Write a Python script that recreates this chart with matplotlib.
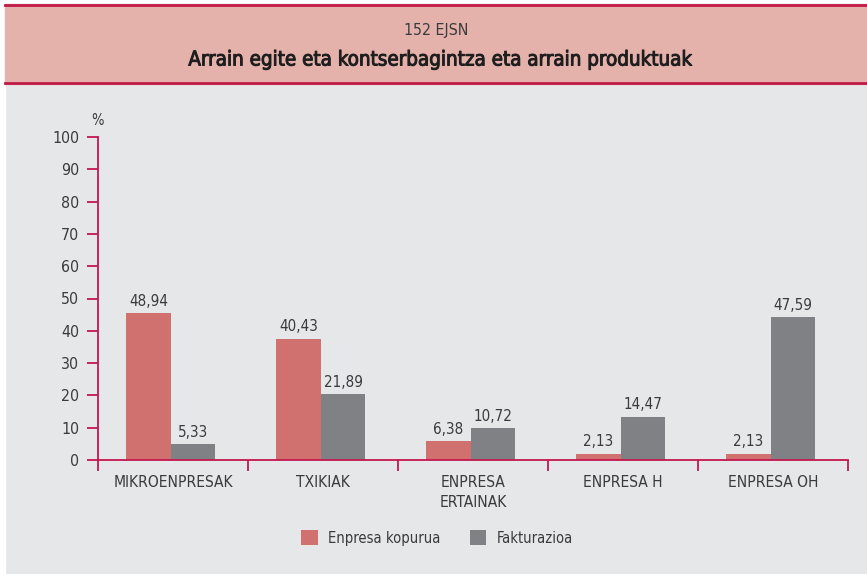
import numpy as np
import matplotlib.pyplot as plt
import matplotlib.patheffects as pe
from matplotlib import font_manager
from matplotlib.patches import Rectangle
from matplotlib.lines import Line2D

# pick a narrow face if one is around
fonts = font_manager.fontManager.ttflist
names = {f.name for f in fonts}
if 'Liberation Sans Narrow' in names:
    plt.rcParams['font.family'] = ['Liberation Sans Narrow', 'DejaVu Sans']
    fs = 1.0
elif any(f.name == 'DejaVu Sans' and str(f.stretch) in ('condensed', 'semi-condensed') for f in fonts):
    plt.rcParams['font.family'] = ['DejaVu Sans']
    plt.rcParams['font.stretch'] = 'condensed'
    fs = 0.95
else:
    plt.rcParams['font.family'] = ['DejaVu Sans']
    fs = 0.88

categories = ["MIKROENPRESAK", "TXIKIAK", "ENPRESA\nERTAINAK", "ENPRESA H", "ENPRESA OH"]
enpresa_kopurua = [48.94, 40.43, 6.38, 2.13, 2.13]
fakturazioa = [5.33, 21.89, 10.72, 14.47, 47.59]
series_names = ["Enpresa kopurua", "Fakturazioa"]
yticks = list(range(0, 101, 10))

red = '#d07170'
grey = '#808184'
axis_col = '#c4174f'
txt = '#3b3b3d'
bg = '#e6e7e9'

# the printed axis is a bit compressed compared to the values
k = 0.93

fig = plt.figure(figsize=(8.67, 5.74), dpi=100)
fig.patch.set_facecolor(bg)
W, H = 867.0, 574.0

# white margins + header band
fig.patches.append(Rectangle((0, 0), 5/W, 1, transform=fig.transFigure, color='white', zorder=0))
fig.patches.append(Rectangle((0, 1-4/H), 1, 4/H, transform=fig.transFigure, color='white', zorder=0))
fig.patches.append(Rectangle((5/W, 1-84/H), 1-5/W, 80/H, transform=fig.transFigure,
                             color='#e5b1ab', zorder=1))
for yy in (1-5/H, 1-83/H):
    fig.lines.append(Line2D([5/W, 1], [yy, yy], transform=fig.transFigure, color='#c01a48', lw=2, zorder=2))

fig.text(436/W, 1-31/H, "152 EJSN", ha='center', va='center', fontsize=12*fs, color=txt)
fig.text(440/W, 1-60/H, "Arrain egite eta kontserbagintza eta arrain produktuak",
         ha='center', va='center', fontsize=15.5*fs, color='#1e1e1e', fontweight='medium',
         path_effects=[pe.withStroke(linewidth=0.7, foreground='#1e1e1e')])

ax = fig.add_axes([98/W, 1-460/H, 750/W, (460-137)/H])
ax.set_facecolor(bg)

x = np.arange(len(categories))
bw = 0.297
c = x + 0.485
b1 = ax.bar(c - bw/2, enpresa_kopurua, bw, color=red, label=series_names[0])
b2 = ax.bar(c + bw/2, fakturazioa, bw, color=grey, label=series_names[1])
for bars, vals in ((b1, enpresa_kopurua), (b2, fakturazioa)):
    for r, v in zip(bars, vals):
        ax.text(r.get_x() + r.get_width()/2, r.get_height() + 1.4, f"{v:.2f}".replace('.', ','),
                ha='center', va='bottom', fontsize=11.5*fs, color=txt)

ax.set_xlim(0, len(categories))
ax.set_ylim(0, 100 / k)
ax.set_yticks([t / k for t in yticks])
ax.set_yticklabels([str(t) for t in yticks])
ax.set_xticks(np.arange(len(categories) + 1))
ax.set_xticklabels([])
ax.set_xticks(x + 0.5, minor=True)
ax.set_xticklabels(categories, minor=True, linespacing=1.4)
ax.tick_params(axis='x', which='minor', length=0, pad=11, labelsize=11.8*fs, labelcolor=txt)
ax.tick_params(axis='x', which='major', direction='out', length=8, width=1.3, color=axis_col)
ax.tick_params(axis='y', direction='out', length=8, width=1.3, color=axis_col, pad=5.5,
               labelsize=12*fs, labelcolor=txt)
for s in ('top', 'right'):
    ax.spines[s].set_visible(False)
for s in ('left', 'bottom'):
    ax.spines[s].set_color(axis_col)
    ax.spines[s].set_linewidth(1.3)

fig.text(97/W, 1-120/H, "%", ha='center', va='center', fontsize=11*fs, color=txt)

fig.legend(handles=[b1, b2], labels=series_names, loc='center', bbox_to_anchor=(437/W, 1-538/H),
           ncol=2, frameon=False, fontsize=11.2*fs, handlelength=1.1, handleheight=1.1,
           handletextpad=0.7, columnspacing=2.0, labelcolor=txt)

fig.savefig("out.png", dpi=100, facecolor=fig.get_facecolor())
